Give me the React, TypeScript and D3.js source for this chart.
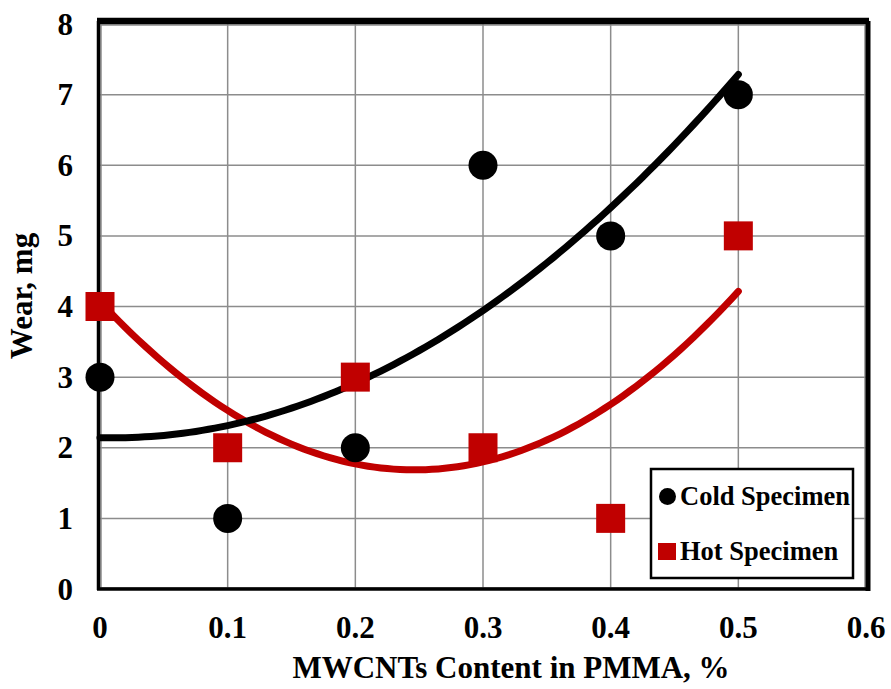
import * as d3 from "d3";

const contents = [0, 0.1, 0.2, 0.3, 0.4, 0.5];
const coldWear = [3, 1, 2, 6, 5, 7];
const hotWear = [4, 2, 3, 2, 1, 5];
const xTicks = [0, 0.1, 0.2, 0.3, 0.4, 0.5, 0.6];
const yTicks = [0, 1, 2, 3, 4, 5, 6, 7, 8];

const RED = "#C00000";
const FONT = "'Liberation Serif', 'Times New Roman', serif";

// least-squares 2nd order polynomial, like the spreadsheet trendline
function quadFit(xs: number[], ys: number[]) {
  const s = [0, 0, 0, 0, 0];
  const t = [0, 0, 0];
  xs.forEach((x, i) => {
    for (let k = 0; k < 5; k++) s[k] += Math.pow(x, k);
    for (let k = 0; k < 3; k++) t[k] += Math.pow(x, k) * ys[i];
  });
  const m = [
    [s[0], s[1], s[2], t[0]],
    [s[1], s[2], s[3], t[1]],
    [s[2], s[3], s[4], t[2]],
  ];
  for (let c = 0; c < 3; c++) {
    for (let r = c + 1; r < 3; r++) {
      const f = m[r][c] / m[c][c];
      for (let k = c; k < 4; k++) m[r][k] -= f * m[c][k];
    }
  }
  const coef = [0, 0, 0];
  for (let r = 2; r >= 0; r--) {
    let v = m[r][3];
    for (let k = r + 1; k < 3; k++) v -= m[r][k] * coef[k];
    coef[r] = v / m[r][r];
  }
  return (x: number) => coef[0] + coef[1] * x + coef[2] * x * x;
}

export default function App() {
  const width = 891;
  const height = 689;
  const left = 100;
  const right = 866;
  const top = 24;
  const bottom = 589;

  const x = d3.scaleLinear().domain([0, 0.6]).range([left, right]);
  const y = d3.scaleLinear().domain([0, 8]).range([bottom, top]);

  const samples = d3.range(0, 101).map((i) => (i / 100) * 0.5);
  const line = d3
    .line<[number, number]>()
    .x((d) => x(d[0]))
    .y((d) => y(d[1]));
  const coldFit = quadFit(contents, coldWear);
  const hotFit = quadFit(contents, hotWear);
  const coldPath = line(samples.map((s) => [s, coldFit(s)]));
  const hotPath = line(samples.map((s) => [s, hotFit(s)]));

  return (
    <svg
      width={width}
      height={height}
      style={{ position: "absolute", left: 0, top: 0, background: "#fff" }}
      fontFamily={FONT}
      fontWeight="bold"
    >
      {/* grid */}
      {xTicks.slice(1, -1).map((t) => (
        <line key={"gx" + t} x1={x(t)} x2={x(t)} y1={top} y2={bottom} stroke="#8c8c8c" strokeWidth={1.5} />
      ))}
      {yTicks.slice(1, -1).map((t) => (
        <line key={"gy" + t} x1={left} x2={right} y1={y(t)} y2={y(t)} stroke="#8c8c8c" strokeWidth={1.5} />
      ))}

      {/* frame: heavy black outline with thin grey inner line */}
      <rect x={left + 1} y={top + 1} width={right - left - 2} height={bottom - top - 2} fill="none" stroke="#8c8c8c" strokeWidth={1.5} />
      <line x1={left - 1.5} x2={left - 1.5} y1={top - 3} y2={bottom + 1} stroke="#000" strokeWidth={3.5} />
      <line x1={left - 3} x2={right + 3} y1={top - 3} y2={top - 3} stroke="#000" strokeWidth={6.5} />
      <line x1={right + 2} x2={right + 2} y1={top - 3} y2={bottom + 2} stroke="#000" strokeWidth={5} />
      <line x1={left - 3} x2={right + 4} y1={bottom} y2={bottom} stroke="#000" strokeWidth={3.5} />

      {/* trendlines */}
      <path d={hotPath ?? ""} fill="none" stroke={RED} strokeWidth={7} strokeLinecap="round" />
      <path d={coldPath ?? ""} fill="none" stroke="#000" strokeWidth={7} strokeLinecap="round" />

      {/* points */}
      {contents.map((c, i) => (
        <circle key={"c" + i} cx={x(c)} cy={y(coldWear[i])} r={14.5} fill="#000" />
      ))}
      {contents.map((c, i) => (
        <rect key={"h" + i} x={x(c) - 14.5} y={y(hotWear[i]) - 14.5} width={29} height={29} fill={RED} />
      ))}

      {/* tick labels */}
      {yTicks.map((t) => (
        <text key={"yl" + t} x={73} y={y(t) + 10.5} textAnchor="end" fontSize={31}>
          {t}
        </text>
      ))}
      {xTicks.map((t) => (
        <text key={"xl" + t} x={x(t)} y={638} textAnchor="middle" fontSize={31}>
          {t}
        </text>
      ))}

      {/* axis titles */}
      <text x={511} y={678} textAnchor="middle" fontSize={31}>
        MWCNTs Content in PMMA, %
      </text>
      <text transform="translate(32,296) rotate(-90)" textAnchor="middle" fontSize={31}>
        Wear, mg
      </text>

      {/* legend */}
      <rect x={651} y={469} width={202} height={109} fill="#fff" stroke="#000" strokeWidth={2.5} />
      <circle cx={667.5} cy={496.5} r={8.5} fill="#000" />
      <text x={680} y={505} fontSize={26.5}>
        Cold Specimen
      </text>
      <rect x={658} y={543} width={18} height={17} fill={RED} />
      <text x={680} y={560} fontSize={26.5}>
        Hot Specimen
      </text>
    </svg>
  );
}
